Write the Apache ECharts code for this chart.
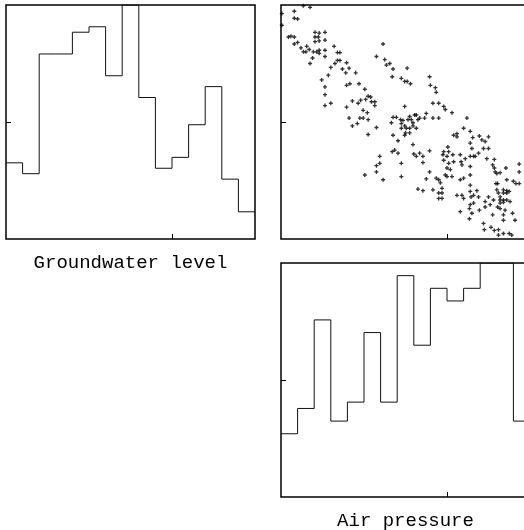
<!DOCTYPE html>
<html>
<head>
<meta charset="utf-8">
<script src="https://cdn.jsdelivr.net/npm/echarts@6/dist/echarts.min.js"></script>
<style>
  html, body { margin: 0; padding: 0; background: #fff; }
  #chart { width: 524px; height: 530px; }
</style>
</head>
<body>
<div id="chart"></div>
<script>
// Histogram of groundwater level (m): bin breaks and counts
const gwBreaks = [2.0, 2.2, 2.4, 2.6, 2.8, 3.0, 3.2, 3.4, 3.6, 3.8, 4.0, 4.2, 4.4, 4.6, 4.8, 5.0];
const gwCounts = [14, 12, 34, 34, 38, 39, 30, 43, 26, 13, 15, 21, 28, 11, 5];

// Histogram of air pressure (hPa): bin breaks and counts
const apBreaks = [995, 997, 999, 1001, 1003, 1005, 1007, 1009, 1011, 1013, 1015, 1017, 1019, 1021, 1023, 1025];
const apCounts = [10, 14, 28, 12, 15, 26, 15, 35, 24, 33, 31, 33, 37, 37, 12];

// Paired observations: air pressure (hPa) against groundwater level (m)
const pressure = [
  995.1, 995.1, 996.6, 996.6, 997.0, 997.7, 998.5, 995.9, 996.2, 996.6,
  996.6, 997.0, 997.4, 997.7, 998.0, 998.1, 998.4, 998.5, 998.8, 999.1,
  999.1, 999.1, 999.5, 999.6, 999.6, 998.9, 999.3, 999.6, 999.6, 1000.3,
  1000.3, 1000.3, 1000.3, 1001.4, 1001.5, 1001.8, 1002.1, 1001.8, 1002.1, 1001.0,
  1002.4, 1002.9, 1003.2, 1002.8, 1004.0, 999.9, 1000.7, 1000.3, 1000.3, 1000.3,
  1001.0, 1002.9, 1003.3, 1004.4, 1003.6, 1004.3, 1004.6, 1005.1, 1005.2, 1005.5,
  1005.8, 1005.9, 1006.3, 1006.3, 1002.9, 1003.2, 1003.6, 1004.2, 1004.5, 1004.9,
  1005.5, 1005.4, 1004.9, 1005.5, 1006.5, 1005.1, 1006.5, 1007.3, 1007.5, 1008.1,
  1007.7, 1008.5, 1010.2, 1008.4, 1009.5, 1009.9, 1010.2, 1010.6, 1012.9, 1013.0,
  1013.6, 1013.7, 1013.3, 1014.0, 1014.6, 1014.8, 1015.6, 1009.9, 1017.4, 1008.5,
  1008.9, 1008.3, 1009.4, 1009.5, 1009.7, 1009.9, 1009.5, 1010.1, 1010.5, 1010.9,
  1010.7, 1011.1, 1011.3, 1011.5, 1011.7, 1012.3, 1012.5, 1013.3, 1014.0, 1010.0,
  1009.9, 1010.5, 1010.9, 1011.3, 1010.3, 1010.5, 1008.5, 1009.1, 1008.4, 1008.7,
  1009.1, 1009.5, 1009.5, 1006.9, 1006.9, 1006.5, 1007.3, 1006.5, 1010.9, 1011.0,
  1011.3, 1011.7, 1012.1, 1012.1, 1011.5, 1012.1, 1012.9, 1012.5, 1013.7, 1014.0,
  1014.2, 1012.9, 1013.3, 1014.0, 1014.0, 1014.4, 1014.4, 1014.4, 1014.6, 1014.5,
  1015.1, 1015.2, 1015.0, 1015.2, 1015.8, 1015.4, 1015.0, 1014.8, 1014.6, 1015.7,
  1015.8, 1016.2, 1016.2, 1017.0, 1016.6, 1016.7, 1016.8, 1017.2, 1017.8, 1017.8,
  1018.1, 1018.0, 1017.8, 1018.2, 1018.4, 1018.8, 1018.9, 1019.2, 1019.6, 1020.0,
  1019.4, 1020.0, 1019.8, 1020.7, 1017.8, 1017.8, 1016.6, 1017.0, 1015.6, 1015.0,
  1016.2, 1016.8, 1017.0, 1017.8, 1017.8, 1017.9, 1018.2, 1018.2, 1017.8, 1017.7,
  1018.6, 1018.8, 1016.6, 1017.7, 1018.0, 1018.9, 1019.6, 1019.6, 1020.0, 1020.5,
  1020.7, 1020.8, 1021.0, 1021.4, 1022.1, 1020.9, 1021.1, 1022.2, 1021.0, 1021.2,
  1021.4, 1021.8, 1021.8, 1022.2, 1022.2, 1022.5, 1021.4, 1021.4, 1021.4, 1021.8,
  1021.8, 1022.2, 1022.6, 1022.0, 1021.8, 1021.8, 1023.2, 1022.9, 1020.2, 1020.6,
  1023.0, 1023.3, 1023.7, 1023.7, 1023.7, 1019.4, 1019.5, 1020.3, 1020.7, 1021.2,
  1021.2, 1021.8, 1022.5, 1022.8, 1020.5, 1021.1
];
const groundwater = [
  4.89, 4.74, 4.92, 4.83, 4.82, 4.99, 4.97, 4.59, 4.60, 4.59,
  4.50, 4.52, 4.45, 4.40, 4.40, 4.47, 4.43, 4.25, 4.32, 4.65,
  4.59, 4.53, 4.59, 4.54, 4.64, 4.40, 4.40, 4.42, 4.38, 4.65,
  4.55, 4.42, 4.34, 4.47, 4.25, 4.29, 4.29, 4.39, 4.39, 4.20,
  4.18, 4.26, 4.19, 4.13, 4.13, 4.04, 4.10, 3.95, 3.85, 3.71,
  3.74, 3.97, 3.99, 3.99, 3.77, 3.74, 3.78, 3.92, 3.79, 3.83,
  3.82, 3.76, 3.71, 3.76, 3.69, 3.55, 3.45, 3.48, 3.55, 3.55,
  3.53, 3.62, 3.65, 3.34, 3.43, 2.82, 4.34, 4.50, 4.30, 4.25,
  4.23, 4.18, 4.19, 4.08, 4.06, 4.02, 4.02, 3.99, 4.08, 3.97,
  3.94, 3.88, 3.74, 3.74, 3.70, 3.66, 3.62, 3.70, 3.55, 3.56,
  3.56, 3.49, 3.53, 3.48, 3.52, 3.45, 3.42, 3.42, 3.42, 3.45,
  3.53, 3.59, 3.59, 3.53, 3.55, 3.55, 3.61, 3.55, 3.55, 3.36,
  3.33, 3.36, 3.49, 3.42, 3.53, 3.57, 3.33, 3.26, 3.12, 3.14,
  3.10, 2.97, 2.80, 3.06, 2.97, 2.86, 2.76, 2.94, 3.21, 3.09,
  3.06, 3.10, 3.06, 2.98, 2.64, 2.62, 2.86, 2.77, 2.78, 2.76,
  2.72, 3.13, 2.63, 2.59, 2.52, 2.59, 2.52, 2.65, 3.01, 3.08,
  3.18, 3.12, 3.06, 2.97, 2.99, 2.89, 2.91, 2.82, 3.12, 3.08,
  3.33, 3.35, 3.31, 3.42, 3.08, 2.99, 2.95, 3.03, 3.38, 3.23,
  3.30, 3.16, 3.06, 3.06, 3.06, 3.10, 3.32, 3.27, 3.25, 3.31,
  3.16, 3.16, 3.03, 3.02, 2.93, 2.82, 2.76, 2.78, 2.80, 2.80,
  2.56, 2.56, 2.52, 2.69, 2.61, 2.54, 2.56, 2.46, 2.44, 2.39,
  2.62, 2.54, 2.35, 2.26, 2.33, 2.37, 2.41, 2.48, 2.54, 2.95,
  2.91, 2.86, 2.84, 2.85, 2.91, 2.71, 2.71, 2.76, 2.63, 2.59,
  2.54, 2.63, 2.59, 2.62, 2.59, 2.61, 2.50, 2.46, 2.39, 2.50,
  2.47, 2.50, 2.48, 2.37, 2.31, 2.24, 2.24, 2.33, 2.44, 2.50,
  2.74, 2.71, 2.71, 2.96, 2.86, 2.20, 2.12, 2.15, 2.11, 2.12,
  2.05, 2.07, 2.07, 2.05, 2.31, 2.41
];

// Axis ranges and the single tick each side carries
const gwRange = [2.0, 5.0];
const apRange = [995, 1025];
const gwTick = [4.0];
const gwLevelTick = [3.5];
const apTick = [1015];
const gwCountMax = 43;
const apCountMax = 37;

// Step outline of a histogram: one vertex per bin left edge, closing at the last break
function stepData(breaks, counts) {
  const pts = counts.map((c, i) => [breaks[i], c]);
  pts.push([breaks[breaks.length - 1], counts[counts.length - 1]]);
  return pts;
}

const FONT = '"Liberation Mono", "DejaVu Sans Mono", monospace';

function valueAxis(gridIndex, range, ticks) {
  return {
    type: 'value',
    gridIndex: gridIndex,
    min: range[0],
    max: range[1],
    axisLine: { show: false },
    splitLine: { show: false },
    axisLabel: { show: false },
    axisTick: {
      show: true,
      inside: true,
      length: 5,
      customValues: ticks,
      lineStyle: { color: '#000', width: 1 }
    }
  };
}

// Panels share one frame style; the right column runs past the page edge
const frame = {
  show: true,
  borderColor: '#000',
  borderWidth: 1.5,
  backgroundColor: 'transparent',
  containLabel: false,
  outerBoundsMode: 'none'
};

function axisTitle(text, x, y) {
  return {
    type: 'text',
    x: x,
    y: y,
    style: {
      text: text,
      font: '19px ' + FONT,
      fill: '#000',
      align: 'center',
      verticalAlign: 'middle'
    }
  };
}

const chart = echarts.init(document.getElementById('chart'), null, { renderer: 'canvas' });

chart.setOption({
  animation: false,
  backgroundColor: '#fff',
  grid: [
    Object.assign({ left: 6, top: 5, width: 249, height: 234 }, frame),
    Object.assign({ left: 281, top: 5, right: -6, height: 234 }, frame),
    Object.assign({ left: 281, top: 263, right: -6, height: 234 }, frame)
  ],
  xAxis: [
    valueAxis(0, gwRange, gwTick),
    valueAxis(1, apRange, apTick),
    valueAxis(2, apRange, apTick)
  ],
  yAxis: [
    valueAxis(0, [0, gwCountMax], [gwCountMax / 2]),
    valueAxis(1, gwRange, gwLevelTick),
    valueAxis(2, [0, apCountMax], [apCountMax / 2])
  ],
  series: [
    {
      type: 'line',
      xAxisIndex: 0,
      yAxisIndex: 0,
      step: 'end',
      symbol: 'none',
      clip: true,
      lineStyle: { color: '#111', width: 1 },
      data: stepData(gwBreaks, gwCounts)
    },
    {
      type: 'scatter',
      xAxisIndex: 1,
      yAxisIndex: 1,
      symbol: 'path://M1,0H2V1H3V2H2V3H1V2H0V1H1Z',
      symbolSize: 4,
      itemStyle: { color: '#000' },
      data: pressure.map((p, i) => [p, groundwater[i]])
    },
    {
      type: 'line',
      xAxisIndex: 2,
      yAxisIndex: 2,
      step: 'end',
      symbol: 'none',
      clip: true,
      lineStyle: { color: '#111', width: 1 },
      data: stepData(apBreaks, apCounts)
    }
  ],
  graphic: [
    axisTitle('Groundwater level', 130.5, 262.5),
    axisTitle('Air pressure', 405.5, 521)
  ]
});
</script>
</body>
</html>
